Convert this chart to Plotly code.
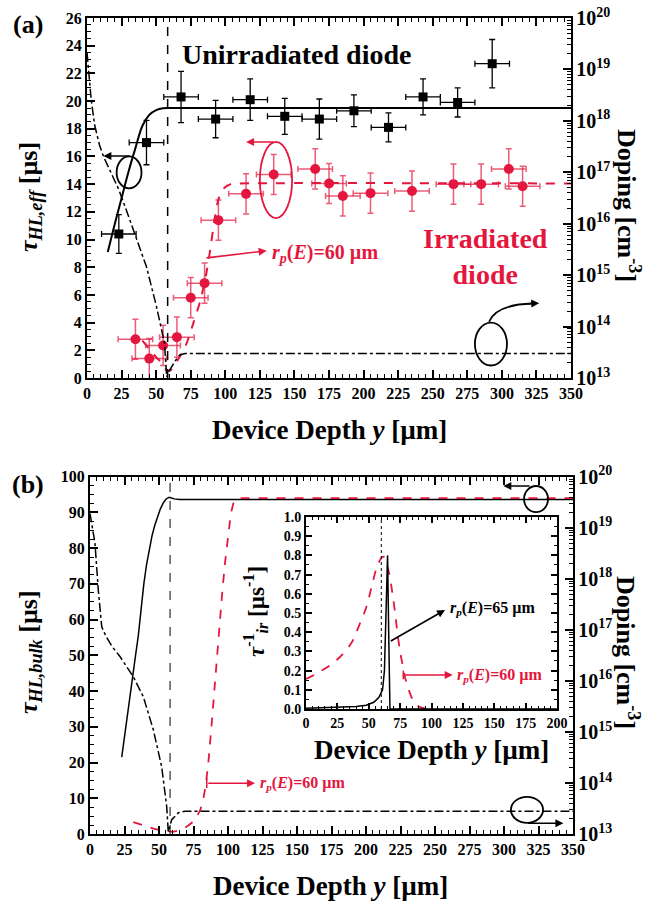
import plotly.graph_objects as go

FONT = "Liberation Serif"
RED = "#E3173E"
RED_ERR = "rgba(227,23,62,0.7)"

# ---------------- panel (a): measured effective lifetime ----------------
unirr_depth = [23, 43, 68, 93, 118, 143, 168, 193, 218, 243, 268, 293]
unirr_tau = [10.4, 17.0, 20.3, 18.7, 20.1, 18.9, 18.7, 19.3, 18.1, 20.3, 19.9, 22.7]
unirr_tau_err = [1.4, 1.6, 1.85, 1.35, 1.5, 1.3, 1.45, 1.15, 1.05, 1.3, 1.05, 1.75]

irr_depth = [35, 45, 55, 65, 75, 85, 95, 115, 135, 165, 175, 185, 205, 235, 265, 285, 305, 315]
irr_tau = [2.8, 1.4, 2.35, 2.95, 5.8, 6.85, 11.4, 13.3, 14.7, 15.1, 14.05, 13.15,
           13.35, 13.5, 14.0, 14.0, 15.1, 13.85]
irr_tau_err = [1.45] * len(irr_depth)
depth_err = 12.5

# model curves (a)
unirr_model_x = [15, 20, 25, 30, 35, 40, 45, 50, 55, 60, 350]
unirr_model_tau = [9.1, 11.1, 13.0, 14.9, 16.6, 18.2, 19.0, 19.35, 19.48, 19.5, 19.5]
irr_model_x = [40, 45, 50, 55, 58, 61, 65, 68, 72, 77, 82, 86, 89, 92, 95, 99, 104, 110, 350]
irr_model_tau = [2.7, 2.1, 1.5, 1.0, 0.5, 0.6, 1.2, 1.7, 2.5, 4.0, 5.6, 7.4, 9.2,
                 11.3, 12.9, 13.7, 14.0, 14.05, 14.05]
doping_a_x = [0, 1.5, 3, 5.5, 9, 12, 17, 23, 30, 35, 43, 50, 53, 56, 57.6, 60, 64, 67, 71, 350]
doping_a = [2.1e19, 7.9e18, 2.6e18, 8.3e17, 3.4e17, 2.0e17, 1.0e17, 4.6e16, 1.4e16, 6.0e15,
            1.45e15, 2.6e14, 1.2e14, 4.8e13, 1.05e13, 1.45e13, 2.2e13, 2.8e13, 3.0e13, 3.0e13]
junction_a = 58.3

# ---------------- panel (b): bulk lifetime simulation ----------------
bulk_unirr_x = [23, 25, 27, 29, 31, 33, 35, 37, 39, 41, 43, 45, 47, 49, 51, 53, 55, 57, 58,
                61, 65, 350]
bulk_unirr_tau = [21.5, 27.5, 33.5, 39.0, 44.5, 50.0, 55.5, 63.0, 70.0, 75.5, 80.0, 83.6,
                  86.5, 89.0, 91.0, 92.6, 93.7, 94.2, 94.2, 93.8, 93.6, 93.6]
bulk_irr_x = [31.4, 40, 46, 52, 56, 60, 65, 70, 74, 77, 80, 82, 84, 86, 88, 90, 92, 94, 96,
              98, 100, 102, 104, 106, 110, 350]
bulk_irr_tau = [3.3, 2.2, 1.5, 1.0, 0.7, 0.6, 1.1, 2.0, 3.2, 4.6, 6.8, 9.5, 14.0, 21.0,
                30.0, 40.0, 51.0, 60.0, 68.5, 76.5, 83.5, 89.5, 92.8, 93.8, 94.0, 94.0]
doping_b_x = [0, 2, 3.6, 6, 8.5, 11.6, 16, 21.7, 31.4, 38.6, 45.9, 51.9, 55.6, 56.7, 59.2,
              64, 68.8, 350]
doping_b = [1.9e19, 8.9e18, 5.0e18, 6.0e17, 1.15e17, 7.4e16, 4.7e16, 3.0e16, 1.2e16,
            4.9e15, 1.1e15, 2.1e14, 3.4e13, 1.1e13, 1.9e13, 2.6e13, 2.8e13, 2.8e13]
junction_b = 58

# ---------------- inset: inverse irradiation lifetime ----------------
inv_tau_60_x = [0, 11, 24.5, 36, 43, 48.4, 52.3, 57.6, 61.6, 65.6, 69.6, 73.6, 76.2, 80.2,
                86.9, 93.5, 200]
inv_tau_60 = [0.156, 0.194, 0.255, 0.342, 0.446, 0.536, 0.637, 0.758, 0.793, 0.724, 0.568,
              0.36, 0.255, 0.134, 0.03, 0.004, 0.0]
inv_tau_65_x = [0, 10, 20, 30, 40, 48, 54, 58, 61, 62.5, 63.5, 65, 66, 66.9, 200]
inv_tau_65 = [0.004, 0.006, 0.008, 0.01, 0.013, 0.02, 0.035, 0.06, 0.1, 0.2, 0.5, 0.8,
              0.35, 0.0, 0.0]
junction_inset = 60

fig = go.Figure()

# panel (a) traces
fig.add_trace(go.Scatter(x=doping_a_x, y=doping_a, mode="lines", xaxis="x", yaxis="y2",
                         line=dict(color="black", width=1.5, dash="dashdot")))
fig.add_trace(go.Scatter(x=unirr_model_x, y=unirr_model_tau, mode="lines", xaxis="x", yaxis="y",
                         line=dict(color="black", width=2, shape="spline")))
fig.add_trace(go.Scatter(x=irr_model_x, y=irr_model_tau, mode="lines", xaxis="x", yaxis="y",
                         line=dict(color=RED, width=2, dash="dash", shape="spline",
                                   smoothing=0.6)))
fig.add_trace(go.Scatter(
    x=irr_depth, y=irr_tau, mode="markers", xaxis="x", yaxis="y",
    marker=dict(symbol="circle", size=10, color=RED),
    error_x=dict(type="constant", value=depth_err, color=RED_ERR, thickness=1.5, width=3),
    error_y=dict(type="data", array=irr_tau_err, color=RED_ERR, thickness=1.5, width=3)))
fig.add_trace(go.Scatter(
    x=unirr_depth, y=unirr_tau, mode="markers", xaxis="x", yaxis="y",
    marker=dict(symbol="square", size=9, color="black"),
    error_x=dict(type="constant", value=depth_err, color="black", thickness=1.3, width=3),
    error_y=dict(type="data", array=unirr_tau_err, color="black", thickness=1.3, width=3)))

# panel (b) traces
fig.add_trace(go.Scatter(x=doping_b_x, y=doping_b, mode="lines", xaxis="x2", yaxis="y4",
                         line=dict(color="black", width=1.5, dash="dashdot")))
fig.add_trace(go.Scatter(x=bulk_unirr_x, y=bulk_unirr_tau, mode="lines", xaxis="x2", yaxis="y3",
                         line=dict(color="black", width=1.5)))
fig.add_trace(go.Scatter(x=bulk_irr_x, y=bulk_irr_tau, mode="lines", xaxis="x2", yaxis="y3",
                         line=dict(color=RED, width=1.8, dash="dash")))

# inset traces
fig.add_trace(go.Scatter(x=inv_tau_60_x, y=inv_tau_60, mode="lines", xaxis="x3", yaxis="y5",
                         line=dict(color=RED, width=1.8, dash="dash", shape="spline")))
fig.add_trace(go.Scatter(x=inv_tau_65_x, y=inv_tau_65, mode="lines", xaxis="x3", yaxis="y5",
                         line=dict(color="black", width=1.5)))

tick_font = dict(family=FONT, size=16, color="black", weight="bold")
inset_font = dict(family=FONT, size=14, color="black", weight="bold")


def lin_axis(rng, dtick, minor, domain, anchor, font, ticklen=8, mirror=False):
    return dict(range=rng, dtick=dtick, domain=domain, anchor=anchor, showgrid=False,
                zeroline=False, showline=True, linecolor="black", linewidth=2,
                automargin=False,
                ticks="inside", ticklen=ticklen, tickwidth=1.5, tickcolor="black",
                mirror="ticks" if mirror else False, tickfont=font,
                minor=dict(dtick=minor, ticks="inside", ticklen=ticklen // 2,
                           tickwidth=1.2, tickcolor="black", showgrid=False))


def log_axis(overlay, anchor):
    return dict(type="log", range=[13, 20], dtick=1, overlaying=overlay, side="right",
                anchor=anchor, showgrid=False, zeroline=False, showline=True,
                automargin=False,
                linecolor="black", linewidth=2, ticks="inside", ticklen=8, tickwidth=1.5,
                tickcolor="black", exponentformat="power", showexponent="all",
                tickfont=tick_font,
                minor=dict(dtick="D1", ticks="inside", ticklen=4, tickwidth=1.2,
                           tickcolor="black", showgrid=False))


fig.update_layout(
    template="none",
    width=648, height=901, margin=dict(l=0, r=0, t=0, b=0, autoexpand=False),
    paper_bgcolor="white", plot_bgcolor="white", showlegend=False,
    font=dict(family=FONT, color="black"),
    xaxis=lin_axis([0, 350], 25, 5, [0.1343, 0.8812], "y", tick_font, mirror=True),
    yaxis=lin_axis([0, 26], 2, 0.5, [0.5805, 0.98], "x", tick_font),
    yaxis2=log_axis("y", "x"),
    xaxis2=lin_axis([0, 350], 25, 5, [0.1389, 0.8843], "y3", tick_font, mirror=True),
    yaxis3=lin_axis([0, 100], 10, 2.5, [0.0744, 0.4709], "x2", tick_font),
    yaxis4=log_axis("y3", "x2"),
    xaxis3=lin_axis([0, 200], 25, 5, [0.4722, 0.8596], "y5", inset_font, ticklen=6, mirror=True),
    yaxis5=lin_axis([0, 1], 0.1, 0.05, [0.2131, 0.4262], "x3", inset_font, ticklen=6, mirror=True),
)
fig.update_layout(yaxis5=dict(tickformat=".1f"))

shapes = []
# junction lines
shapes.append(dict(type="line", xref="x", yref="y domain", x0=junction_a, x1=junction_a,
                   y0=0, y1=1, line=dict(color="black", width=1.5, dash="dash")))
shapes.append(dict(type="line", xref="x2", yref="y3 domain", x0=junction_b, x1=junction_b,
                   y0=0, y1=1, line=dict(color="black", width=1, dash="dash")))
shapes.append(dict(type="line", xref="x3", yref="y5 domain", x0=junction_inset,
                   x1=junction_inset, y0=0, y1=1, line=dict(color="black", width=1, dash="dot")))
# ellipses
shapes.append(dict(type="circle", xref="x", yref="y", x0=21.4, x1=39.4, y0=13.7, y1=16.0,
                   line=dict(color="black", width=1.8)))
shapes.append(dict(type="circle", xref="x", yref="y", x0=125, x1=148.3, y0=11.55, y1=17.05,
                   line=dict(color=RED, width=1.8)))
shapes.append(dict(type="circle", xref="x", yref="y", x0=280.5, x1=303.7, y0=0.9, y1=4.0,
                   line=dict(color="black", width=1.8)))
shapes.append(dict(type="path", xref="x", yref="y", path="M 290.7 4.06 Q 296 5.3 322 5.38",
                   line=dict(color="black", width=1.8)))
shapes.append(dict(type="circle", xref="x2", yref="y3", x0=314.5, x1=331.9, y0=90.1, y1=97.4,
                   line=dict(color="black", width=1.8)))
shapes.append(dict(type="circle", xref="x2", yref="y3", x0=305, x1=328.3, y0=3.1, y1=10.4,
                   line=dict(color="black", width=1.8)))
# small ticks at arrow tails
shapes.append(dict(type="line", xref="x2", yref="y3", x0=84.6, x1=84.6, y0=12.9, y1=15.5,
                   line=dict(color=RED, width=1.5)))
shapes.append(dict(type="line", xref="x3", yref="y5", x0=77.5, x1=77.5, y0=0.155, y1=0.2,
                   line=dict(color=RED, width=1.5)))
fig.update_layout(shapes=shapes)


def arrow(xr, yr, x, y, ax, ay, color="black"):
    return dict(xref=xr, yref=yr, axref=xr, ayref=yr, x=x, y=y, ax=ax, ay=ay, text="",
                showarrow=True, arrowhead=2, arrowsize=1, arrowwidth=1.6, arrowcolor=color)


def label(xr, yr, x, y, text, size, color="black", xanchor="center", angle=0):
    return dict(xref=xr, yref=yr, x=x, y=y, text=text, showarrow=False, xanchor=xanchor,
                yanchor="middle", textangle=angle,
                font=dict(family=FONT, size=size, color=color, weight="bold"))


rp60 = "<i>r</i><sub><i>p</i></sub>(<i>E</i>)=60 µm"
rp65 = "<i>r</i><sub><i>p</i></sub>(<i>E</i>)=65 µm"

annotations = [
    arrow("x", "y", 11.8, 16.03, 31.8, 16.03),
    arrow("x", "y", 115, 17.05, 136, 17.05, RED),
    arrow("x", "y", 327, 5.4, 318, 5.36),
    arrow("x", "y", 129.9, 9.19, 85.3, 8.66, RED),
    arrow("x2", "y3", 299.5, 97.4, 319.6, 97.4),
    arrow("x2", "y3", 343, 3.0, 316.4, 3.0),
    arrow("x2", "y3", 119.6, 14.2, 84.6, 14.2, RED),
    arrow("x3", "y5", 110.8, 0.516, 66.4, 0.35),
    arrow("x3", "y5", 116.9, 0.177, 77.5, 0.177, RED),
    label("x", "y", 151.8, 23.4, "Unirradiated diode", 28),
    label("x", "y", 288, 8.8, "Irradiated<br>diode", 28, RED),
    label("x", "y", 132.3, 9.0, rp60, 20, RED, "left"),
    label("x2", "y3", 121.7, 14.2, rp60, 16, RED, "left"),
    label("x3", "y5", 113.1, 0.526, rp65, 16, "black", "left"),
    label("x3", "y5", 118.7, 0.177, rp60, 16, RED, "left"),
    # axis titles
    label("paper", "paper", 329 / 648, 1 - 430 / 901, "Device Depth <i>y</i> [µm]", 27),
    label("paper", "paper", 330 / 648, 1 - 886 / 901, "Device Depth <i>y</i> [µm]", 27),
    label("paper", "paper", 431 / 648, 1 - 750 / 901, "Device Depth <i>y</i> [µm]", 27),
    label("paper", "paper", 30 / 648, 1 - 197 / 901,
          "<i>τ</i><sub><i>HL,eff</i></sub> [µs]", 26, angle=-90),
    label("paper", "paper", 30 / 648, 1 - 652 / 901,
          "<i>τ</i><sub><i>HL,bulk</i></sub> [µs]", 26, angle=-90),
    label("paper", "paper", 628 / 648, 1 - 205 / 901, "Doping [cm<sup>-3</sup>]", 26, angle=90),
    label("paper", "paper", 628 / 648, 1 - 652 / 901, "Doping [cm<sup>-3</sup>]", 26, angle=90),
    label("paper", "paper", 255 / 648, 1 - 612 / 901,
          "<i>τ</i><sup>-1</sup><sub><i>ir</i></sub> [µs<sup>-1</sup>]", 23, angle=-90),
    label("paper", "paper", 28 / 648, 1 - 25 / 901, "(a)", 26),
    label("paper", "paper", 28 / 648, 1 - 484 / 901, "(b)", 26),
]
fig.update_layout(annotations=annotations)

fig.write_html("out.html", config=dict(displayModeBar=False),
               post_script="document.body.style.margin='0px';")
